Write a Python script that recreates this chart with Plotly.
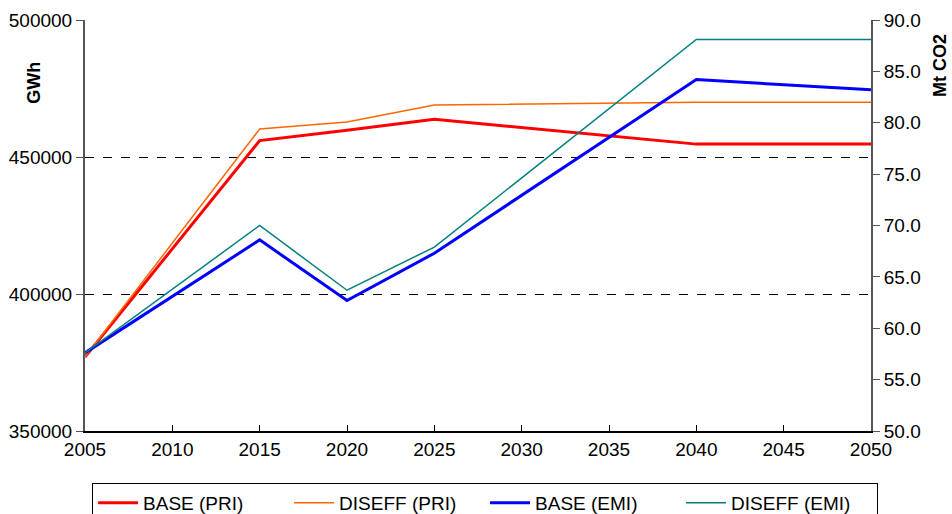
import plotly.graph_objects as go

years = [2005, 2015, 2020, 2025, 2040, 2050]

# primary energy (GWh)
base_pri = [377000, 456000, 459800, 463800, 454700, 454700]
diseff_pri = [377000, 460200, 462800, 469000, 470000, 470000]

# emissions (Mt CO2)
base_emi = [57.6, 68.6, 62.7, 67.3, 84.2, 83.2]
diseff_emi = [57.6, 70.0, 63.7, 67.9, 88.1, 88.1]

FONT = "Liberation Sans, Arial, sans-serif"

fig = go.Figure()
fig.add_trace(go.Scatter(x=years, y=base_pri, name="BASE (PRI)", mode="lines",
                         line=dict(color="#ff0000", width=3)))
fig.add_trace(go.Scatter(x=years, y=diseff_pri, name="DISEFF (PRI)", mode="lines",
                         line=dict(color="#ff6600", width=1.5)))
fig.add_trace(go.Scatter(x=years, y=base_emi, name="BASE (EMI)", mode="lines", yaxis="y2",
                         line=dict(color="#0000ff", width=3)))
fig.add_trace(go.Scatter(x=years, y=diseff_emi, name="DISEFF (EMI)", mode="lines", yaxis="y2",
                         line=dict(color="#008080", width=1.5)))

fig.update_layout(
    width=952, height=514,
    margin=dict(l=85, r=81, t=20, b=83, autoexpand=False),
    paper_bgcolor="white", plot_bgcolor="white",
    font=dict(family=FONT, size=19, color="black"),
    showlegend=True,
    legend=dict(orientation="h", x=0.009, y=-0.1265, xanchor="left", yanchor="top",
                bordercolor="black", borderwidth=1, bgcolor="white",
                entrywidth=141, entrywidthmode="pixels", itemwidth=40,
                font=dict(size=19)),
    xaxis=dict(range=[2005, 2050], dtick=5, tick0=2005, showgrid=False,
               showline=True, linecolor="black", linewidth=1.5,
               ticks="inside", ticklen=6, tickcolor="black", zeroline=False),
    yaxis=dict(range=[350000, 500000], dtick=50000, tickformat="d",
               showgrid=True, gridcolor="black", griddash="dash", gridwidth=1,
               showline=True, linecolor="#555555", linewidth=2,
               ticks="outside", ticklen=7, tickcolor="#555555", zeroline=False),
    yaxis2=dict(range=[50, 90], dtick=5, tickformat=".1f", overlaying="y", side="right",
                showgrid=False, showline=True, linecolor="#555555", linewidth=2,
                ticks="outside", ticklen=7, tickcolor="#555555", zeroline=False),
)

# axis titles sit near the top of each axis, as in the original
fig.add_annotation(text="<b>GWh</b>", x=-0.065, y=0.847, xref="paper", yref="paper",
                   xanchor="center", yanchor="middle",
                   textangle=-90, showarrow=False, font=dict(size=18))
fig.add_annotation(text="<b>Mt CO2</b>", x=1.0878, y=0.888, xref="paper", yref="paper",
                   xanchor="center", yanchor="middle",
                   textangle=-90, showarrow=False, font=dict(size=18))

# drop the default page margin so the figure sits at the window's corner
fig.write_html("out.html", config={"displayModeBar": False},
               post_script="document.body.style.margin='0';")
